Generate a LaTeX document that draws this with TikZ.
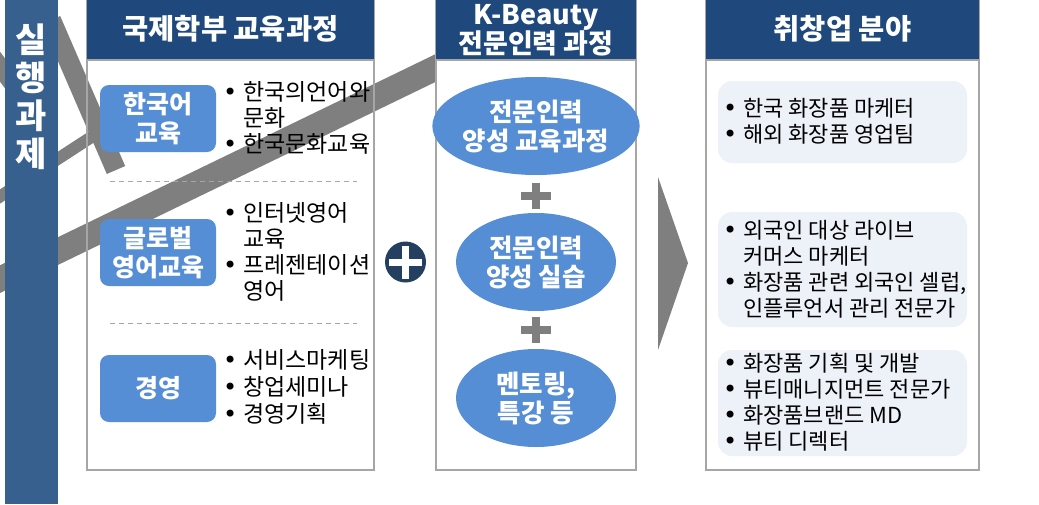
\documentclass[tikz,border=0pt]{standalone}
\usepackage{fontspec}
\setmainfont{Noto Sans CJK KR}
\newfontfamily\dotfont{DejaVu Sans}
\usepackage{xcolor}
\usepackage{tikz}
\usetikzlibrary{shapes.geometric}
\definecolor{deckNavy}{HTML}{1F497D}
\definecolor{deckSide}{HTML}{38608F}
\definecolor{deckBlue}{HTML}{558ED5}
\definecolor{deckPale}{HTML}{EDF2F9}
\definecolor{deckGray}{HTML}{A6A6A6}
\definecolor{deckMark}{HTML}{7F7F7F}
\definecolor{deckPlus}{HTML}{243F60}
\newcommand{\dotmark}{\makebox[20pt][l]{\dotfont\fontsize{24}{24}\selectfont •}}
\tikzset{
  panel/.style={draw=deckGray, line width=1.3pt},
  hdr/.style={fill=deckNavy, text=white, font=\bfseries\fontsize{28.5}{30}\selectfont, align=center, inner sep=0pt},
  tagb/.style={fill=deckBlue, rounded corners=9pt, text=white, font=\bfseries\fontsize{25}{29}\selectfont,
    align=center, minimum width=116pt, minimum height=67pt, inner sep=0pt},
  oval/.style={ellipse, fill=deckBlue, text=white, font=\bfseries\fontsize{25.5}{29}\selectfont,
    align=center, minimum width=160pt, minimum height=98pt, inner sep=0pt},
  pane/.style={fill=deckPale, rounded corners=14pt, minimum width=249pt, inner sep=0pt},
  lst/.style={anchor=west, inner sep=0pt, font=\fontsize{23}{24}\selectfont},
  lstw/.style={lst, font=\fontsize{22}{26}\selectfont},
  ghost/.style={draw=deckMark, line cap=butt},
  sepl/.style={dash pattern=on 5pt off 4pt, draw=deckGray, line width=1pt},
  plusb/.style={line width=8pt, deckMark},
}

\begin{document}
\begin{tikzpicture}[x=1pt,y=-1pt]
  \useasboundingbox (0,0) rectangle (1039,504);
  \fill[white] (0,0) rectangle (1039,504);
  % grey strokes that show through the first column
  \draw[ghost, line width=25pt] (-10,284) -- (450,61);
  \draw[ghost, line width=20pt] (51,20) -- (116,170);
  \draw[ghost, line width=12pt] (96,134) -- (-10,203);
  \draw[ghost, line width=18pt] (-20,40) -- (25,100);
  % side bar
  \fill[deckSide] (5,0) rectangle (58,504);
  \node[text=white, font=\bfseries\fontsize{34}{38}\selectfont, align=center, inner sep=0pt] (tasks) at (31.5,97) {실\\행\\과\\제};

  % left column: courses
  \draw[panel] (87,-2) rectangle (374,470);
  \node[hdr, minimum width=287pt, minimum height=62pt] (courseHead) at (230.5,29) {국제학부 교육과정};
  \draw[deckGray, line width=1.3pt] (87,60) -- (374,60);
  \node[tagb] (tagKor) at (158,118.5) {한국어\\교육};
  \node[tagb] (tagEng) at (158,252.5) {글로벌\\영어교육};
  \node[tagb] (tagBiz) at (158,388.5) {경영};
  \node[lst] (listKor) at (223,120.7) {\begin{tabular}{@{}l@{}l@{}}
    \dotmark & 한국의언어와\\ & 문화\\ \dotmark & 한국문화교육\end{tabular}};
  \node[lst] (listEng) at (223,254.7) {\begin{tabular}{@{}l@{}l@{}}
    \dotmark & 인터넷영어\\ & 교육\\ \dotmark & 프레젠테이션\\ & 영어\end{tabular}};
  \node[lst, font=\fontsize{23}{26}\selectfont] (listBiz) at (223,390.3) {\begin{tabular}{@{}l@{}l@{}}
    \dotmark & 서비스마케팅\\ \dotmark & 창업세미나\\ \dotmark & 경영기획\end{tabular}};
  \draw[sepl] (110,181) -- (357,181);
  \draw[sepl] (110,323) -- (357,323);

  % joining plus
  \node[circle, fill=deckPlus, minimum size=41pt, inner sep=0pt] (join) at (405.5,262) {};
  \draw[white, line width=7pt] ([xshift=-16.5pt]join.center) -- ([xshift=16.5pt]join.center);
  \draw[white, line width=7pt] ([yshift=-16.5pt]join.center) -- ([yshift=16.5pt]join.center);

  % middle column: K-Beauty track
  \draw[panel, fill=white] (436,-2) rectangle (636,470);
  \fill[deckNavy] (436,-2) rectangle (636,60);
  \node[hdr, fill=none, font=\bfseries\fontsize{27}{29}\selectfont] (kbHead) at (536,30.5) {K-Beauty\\전문인력 과정};
  \draw[deckGray, line width=1.3pt] (436,60) -- (636,60);
  \node[oval] (kbEdu) at (536,126) {전문인력\\양성 교육과정};
  \node[oval] (kbLab) at (536,262) {전문인력\\양성 실습};
  \node[oval] (kbTalk) at (536,398) {멘토링,\\특강 등};
  \foreach \py in {196,330} {
    \draw[plusb] (521,\py) -- (551,\py);
    \draw[plusb] (536,\py-13) -- (536,\py+13);
  }

  % chevron
  \fill[deckMark] (658,177) -- (688,263) -- (658,350) -- cycle;

  % right column: jobs
  \draw[panel, fill=white] (706,-2) rectangle (979,470);
  \node[hdr, minimum width=273pt, minimum height=62pt] (jobHead) at (842.5,29) {취창업 분야};
  \draw[deckGray, line width=1.3pt] (706,60) -- (979,60);
  \node[pane, minimum height=82pt] (paneA) at (842.5,122) {};
  \node[pane, minimum height=115pt] (paneB) at (842.5,269.5) {};
  \node[pane, minimum height=106pt] (paneC) at (842.5,403) {};
  \node[lstw] (jobsA) at (723,124.4) {\begin{tabular}{@{}l@{}l@{}}
    \dotmark & 한국 화장품 마케터\\ \dotmark & 해외 화장품 영업팀\end{tabular}};
  \node[lstw] (jobsB) at (723,272.2) {\begin{tabular}{@{}l@{}l@{}}
    \dotmark & 외국인 대상 라이브\\ & 커머스 마케터\\ \dotmark & 화장품 관련 외국인 셀럽,\\ & 인플루언서 관리 전문가\end{tabular}};
  \node[lstw] (jobsC) at (723,405.7) {\begin{tabular}{@{}l@{}l@{}}
    \dotmark & 화장품 기획 및 개발\\ \dotmark & 뷰티매니지먼트 전문가\\ \dotmark & 화장품브랜드 MD\\ \dotmark & 뷰티 디렉터\end{tabular}};
\end{tikzpicture}
\end{document}
